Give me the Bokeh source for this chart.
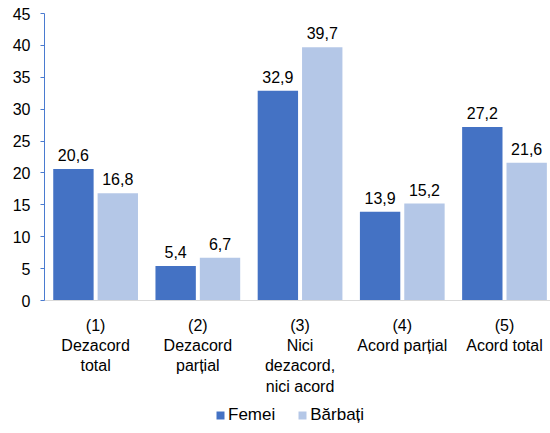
from bokeh.plotting import figure
from bokeh.layouts import column
from bokeh.models import ColumnDataSource, FixedTicker, Range1d, Legend, LegendItem, LabelSet
from bokeh.core.properties import value
from bokeh.embed import file_html
from bokeh.resources import INLINE

categories = ["(1)\nDezacord\ntotal", "(2)\nDezacord\nparțial", "(3)\nNici\ndezacord,\nnici acord",
              "(4)\nAcord parțial", "(5)\nAcord total"]
series_names = ["Femei", "Bărbați"]
femei = [20.6, 5.4, 32.9, 13.9, 27.2]
barbati = [16.8, 6.7, 39.7, 15.2, 21.6]
y_ticks = [0, 5, 10, 15, 20, 25, 30, 35, 40, 45]

C_F = "#4472C4"
C_B = "#B4C7E7"
FONT = "Liberation Sans"

pos = list(range(1, len(categories) + 1))
off = 0.217
bw = 0.395

src_f = ColumnDataSource(dict(x=[p_ - off for p_ in pos], y=femei,
                              lab=[f"{v:.1f}".replace(".", ",") for v in femei]))
src_b = ColumnDataSource(dict(x=[p_ + off for p_ in pos], y=barbati,
                              lab=[f"{v:.1f}".replace(".", ",") for v in barbati]))

p = figure(width=550, height=404, output_backend="svg", toolbar_location=None,
           x_range=Range1d(0.5, 5.45), y_range=Range1d(0, 45),
           min_border_left=44, min_border_right=0, min_border_top=13, min_border_bottom=104)
p.outline_line_color = None
p.grid.visible = False

p.vbar(x="x", top="y", width=bw, source=src_f, fill_color=C_F, line_color=None)
p.vbar(x="x", top="y", width=bw, source=src_b, fill_color=C_B, line_color=None)

for s in (src_f, src_b):
    p.add_layout(LabelSet(x="x", y="y", text="lab", source=s, text_align="center",
                          text_baseline="bottom", y_offset=8, text_font=value(FONT),
                          text_font_size=value("16px"), text_color="#000000"))

# x axis
p.xaxis.ticker = FixedTicker(ticks=pos)
p.xaxis.major_label_overrides = {i + 1: c for i, c in enumerate(categories)}
p.xaxis.major_tick_line_color = None
p.xaxis.minor_tick_line_color = None
p.xaxis.axis_line_color = "#D9D9D9"
p.xaxis.axis_line_width = 1
p.xaxis.major_label_text_font = FONT
p.xaxis.major_label_text_font_size = "16px"
p.xaxis.major_label_text_color = "#000000"
p.xaxis.major_label_standoff = 10

# y axis
p.yaxis.ticker = FixedTicker(ticks=y_ticks)
p.yaxis.axis_line_color = "#4A7BD0"
p.yaxis.major_tick_line_color = "#4A7BD0"
p.yaxis.major_tick_out = 4
p.yaxis.major_tick_in = 0
p.yaxis.minor_tick_line_color = None
p.yaxis.major_label_text_font = FONT
p.yaxis.major_label_text_font_size = "16px"
p.yaxis.major_label_text_color = "#000000"
p.yaxis.major_label_standoff = 10

# legend strip
lp = figure(width=550, height=29, output_backend="svg", toolbar_location=None,
            x_range=Range1d(0, 1), y_range=Range1d(0, 1),
            min_border_left=0, min_border_right=0, min_border_top=0, min_border_bottom=0,
            x_axis_location=None, y_axis_location=None)
lp.outline_line_color = None
lp.grid.visible = False
lf = lp.vbar(x=[-10], top=[0], width=0.1, fill_color=C_F, line_color=None)
lb = lp.vbar(x=[-10], top=[0], width=0.1, fill_color=C_B, line_color=None)

legend = Legend(items=[LegendItem(label=series_names[0], renderers=[lf]),
                       LegendItem(label=series_names[1], renderers=[lb])],
                orientation="horizontal", location=(171, 8),
                glyph_width=10, glyph_height=10, label_standoff=3, spacing=22,
                padding=0, margin=0, border_line_color=None, background_fill_alpha=0,
                label_text_font=FONT, label_text_font_size="17px", label_text_color="#000000")
lp.add_layout(legend, "center")

layout = column(p, lp, spacing=0)
open("out.html", "w").write(file_html(layout, INLINE))
